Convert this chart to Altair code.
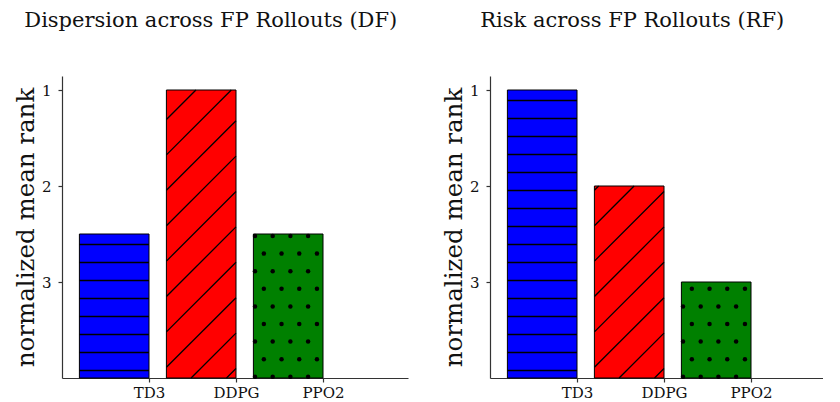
import altair as alt
import numpy as np
import pandas as pd

# ---- data ----
models = ["TD3", "DDPG", "PPO2"]
df_rank = [2.5, 1.0, 2.5]          # Dispersion across FP Rollouts (DF)
rf_rank = [1.0, 2.0, 3.0]          # Risk across FP Rollouts (RF)
panel_titles = ["Dispersion across FP Rollouts (DF)", "Risk across FP Rollouts (RF)"]
bar_colors = ["#0000ff", "#ff0000", "#008000"]
hatch_kinds = ["-", "/", "."]
y_ticks = [1, 2, 3]

# ---- layout / style ----
BAR_W = 0.8
W_LEFT, W_RIGHT, H = 346, 333, 302
SX = 87.0
Y_DOM = [0.854, 4.0]
BASE = 4.0
SY = H / (Y_DOM[1] - Y_DOM[0])
X0 = -0.6
FONT = "DejaVu Serif"


def to_data(px, py):
    return X0 + px / SX, Y_DOM[0] + py / SY


def hatch_for(idx, value, kind):
    """Decorative hatch geometry derived from a bar's extent."""
    x0, x1 = idx - BAR_W / 2, idx + BAR_W / 2
    a, b = (x0 - X0) * SX, (x1 - X0) * SX
    c, d = (value - Y_DOM[0]) * SY, (BASE - Y_DOM[0]) * SY
    segs, dots = [], []
    if kind == "-":
        step, phase = 18.0, 24.5
        k = np.ceil((c - phase) / step)
        py = phase + k * step
        while py < d - 0.5:
            if py > c + 0.5:
                _, yv = to_data(0, py)
                segs.append(dict(x=x0, x2=x1, y=yv, y2=yv))
            py += step
    elif kind == "/":
        step, phase = 35.4, 6.3
        u = phase + np.floor((a + c - phase) / step) * step
        while u < b + d:
            lo, hi = max(a, u - d), min(b, u - c)
            if hi - lo > 0.5:
                xa, ya = to_data(lo, u - lo)
                xb, yb = to_data(hi, u - hi)
                segs.append(dict(x=xa, x2=xb, y=ya, y2=yb))
            u += step
    else:
        dy, dx, phase_y = 17.6, 17.7, 1.6
        r = int(np.ceil((c - 1 - phase_y) / dy))
        while phase_y + r * dy <= d + 1:
            py = phase_y + r * dy
            px0 = 193.0 if r % 2 == 1 else 193.0 + dx / 2
            px = px0 - np.ceil((px0 - a + 1) / dx) * dx
            while px <= b + 1:
                if px >= a - 1 and py >= c - 1:
                    xv, yv = to_data(px, py)
                    dots.append(dict(x=xv, y=yv))
                px += dx
            r += 1
    return segs, dots


def panel(values, title, width):
    x_dom = [X0, X0 + width / SX]
    bars = pd.DataFrame({
        "model": models,
        "x0": [i - BAR_W / 2 for i in range(len(models))],
        "x1": [i + BAR_W / 2 for i in range(len(models))],
        "rank": values,
        "base": [BASE] * len(models),
    })
    segs, dots = [], []
    for i, (v, k) in enumerate(zip(values, hatch_kinds)):
        s, d = hatch_for(i, v, k)
        segs += s
        dots += d
    segs = pd.DataFrame(segs)
    dots = pd.DataFrame(dots)

    xs = alt.Scale(domain=x_dom, nice=False, zero=False)
    ys = alt.Scale(domain=Y_DOM, nice=False, zero=False, reverse=True)
    label_expr = "[" + ",".join("'%s'" % m for m in models) + "][floor(datum.value)]"
    x_axis = alt.Axis(title=None, values=[i + BAR_W / 2 for i in range(len(models))],
                      labelExpr=label_expr, grid=False, labelPadding=3)
    y_axis = alt.Axis(title="normalized mean rank", values=y_ticks, grid=False, format="d",
                      labelPadding=7, titlePadding=3, titleFontSize=24.5)

    bar = alt.Chart(bars).mark_bar(stroke="black", strokeWidth=1).encode(
        x=alt.X("x0:Q", scale=xs, axis=x_axis),
        x2="x1:Q",
        y=alt.Y("rank:Q", scale=ys, axis=y_axis),
        y2="base:Q",
        color=alt.Color("model:N", scale=alt.Scale(domain=models, range=bar_colors), legend=None),
    )
    lines = alt.Chart(segs).mark_rule(color="black", strokeWidth=1.3).encode(
        x=alt.X("x:Q", scale=xs, axis=x_axis), x2="x2:Q",
        y=alt.Y("y:Q", scale=ys, axis=y_axis), y2="y2:Q",
    )
    pts = alt.Chart(dots).mark_point(filled=True, color="black", size=20, opacity=1).encode(
        x=alt.X("x:Q", scale=xs, axis=x_axis),
        y=alt.Y("y:Q", scale=ys, axis=y_axis),
    )
    return alt.layer(bar, lines, pts).properties(
        width=width, height=H,
        title=alt.TitleParams(text=title, font=FONT, fontSize=21, fontWeight="normal",
                              color="#111", frame="bounds", anchor="middle", offset=45),
    )


chart = alt.hconcat(
    panel(df_rank, panel_titles[0], W_LEFT),
    panel(rf_rank, panel_titles[1], W_RIGHT),
    spacing=33,
).properties(
    padding={"left": 5, "top": 2, "right": 0, "bottom": 0}
).configure_view(stroke=None).configure_axis(
    labelFont=FONT, labelFontSize=15, labelColor="#111",
    titleFont=FONT, titleFontWeight="normal", titleColor="#111",
    domainColor="#333", domainWidth=1.2, tickColor="#333", tickWidth=1.2, tickSize=4,
)

chart.save("out.html", embed_options={"renderer": "svg", "actions": False})
